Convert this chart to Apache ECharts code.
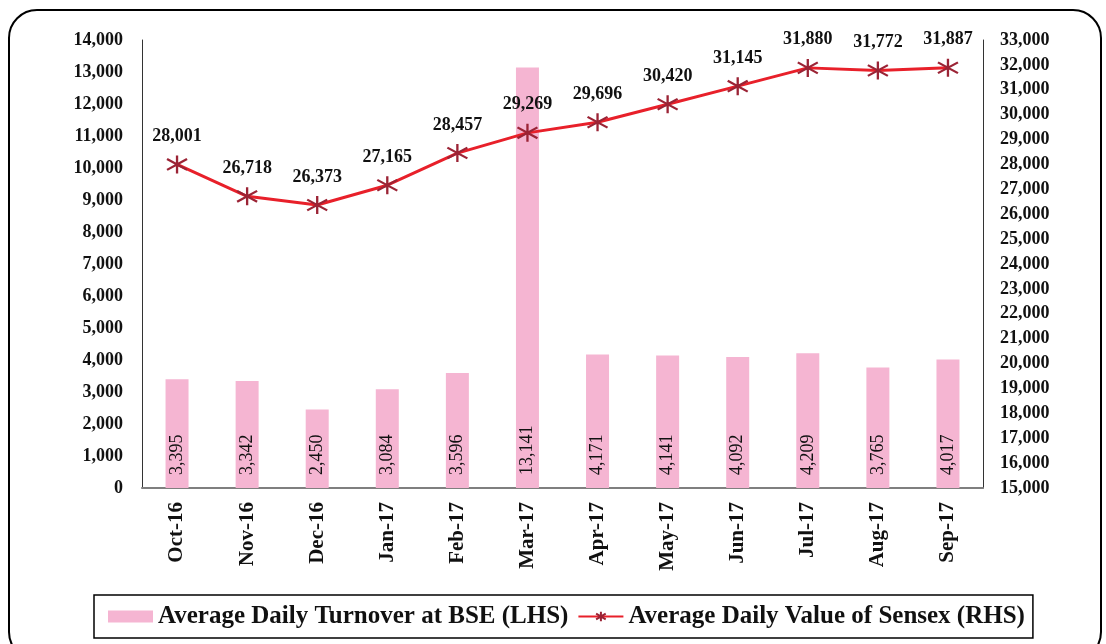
<!DOCTYPE html>
<html><head><meta charset="utf-8">
<script src="https://cdn.jsdelivr.net/npm/echarts@6/dist/echarts.min.js"></script>
<style>html,body{margin:0;padding:0;background:#fff}#c{width:1106px;height:644px}</style>
</head><body><div id="c"></div>
<script>
const categories = ['Oct-16','Nov-16','Dec-16','Jan-17','Feb-17','Mar-17','Apr-17','May-17','Jun-17','Jul-17','Aug-17','Sep-17'];
const turnover = [3395,3342,2450,3084,3596,13141,4171,4141,4092,4209,3765,4017];
const sensex = [28001,26718,26373,27165,28457,29269,29696,30420,31145,31880,31772,31887];
const leftAxis = {min:0, max:14000, interval:1000};
const rightAxis = {min:15000, max:33000, interval:1000};

const FONT = '"Liberation Serif", "DejaVu Serif", serif';
const fmt = v => Number(v).toLocaleString('en-US');
const chart = echarts.init(document.getElementById('c'));
chart.setOption({
  animation:false,
  backgroundColor:'#fff',
  textStyle:{fontFamily:FONT},
  graphic:[{type:'rect', shape:{x:9,y:10,width:1092,height:650,r:28}, style:{fill:'none', stroke:'#000', lineWidth:2}, z:-1}],
  grid:{left:142, right:123, top:40, bottom:156},
  legend:{
    left:94, top:595, padding:[9,8,9,14], itemGap:9, itemWidth:45, itemHeight:12,
    borderColor:'#000', borderWidth:1.5,
    textStyle:{fontFamily:FONT, fontWeight:'bold', fontSize:25, color:'#111'},
    data:[{name:'Average Daily Turnover at BSE (LHS)', icon:'rect'},{name:'Average Daily Value of Sensex (RHS)'}]
  },
  xAxis:{type:'category', data:categories,
    axisLine:{lineStyle:{color:'#7f7f7f', width:2}}, axisTick:{show:false},
    axisLabel:{rotate:90, fontFamily:FONT, fontWeight:'bold', fontSize:21, color:'#111', margin:14}},
  yAxis:[
    {type:'value', min:leftAxis.min, max:leftAxis.max, interval:leftAxis.interval, position:'left',
     axisLine:{show:true, lineStyle:{color:'#333', width:1}}, axisTick:{show:false}, splitLine:{show:false},
     axisLabel:{formatter:fmt, fontFamily:FONT, fontWeight:'bold', fontSize:18, color:'#111', margin:19}},
    {type:'value', min:rightAxis.min, max:rightAxis.max, interval:rightAxis.interval, position:'right',
     axisLine:{show:true, lineStyle:{color:'#333', width:1}}, axisTick:{show:false}, splitLine:{show:false},
     axisLabel:{formatter:fmt, fontFamily:FONT, fontWeight:'bold', fontSize:18, color:'#111', margin:17}}
  ],
  series:[
    {name:'Average Daily Turnover at BSE (LHS)', type:'bar', data:turnover, yAxisIndex:0, barWidth:23,
     itemStyle:{color:'#F5B5D2'},
     label:{show:true, position:'insideBottom', rotate:90, align:'left', verticalAlign:'middle', distance:13,
       formatter:p=>fmt(p.value), fontFamily:FONT, fontSize:18, color:'#111'}},
    {name:'Average Daily Value of Sensex (RHS)', type:'line', data:sensex, yAxisIndex:1,
     lineStyle:{color:'#E8202A', width:3},
     symbol:'path://M0,-10 L0,10 M-9,-6 L9,6 M-9,6 L9,-6', symbolSize:[20,18],
     itemStyle:{color:'#9B2335', borderColor:'#9B2335', borderWidth:2.2},
     label:{show:true, position:'top', distance:9, formatter:p=>fmt(p.value),
       fontFamily:FONT, fontWeight:'bold', fontSize:18, color:'#111'}}
  ]
});
</script></body></html>
